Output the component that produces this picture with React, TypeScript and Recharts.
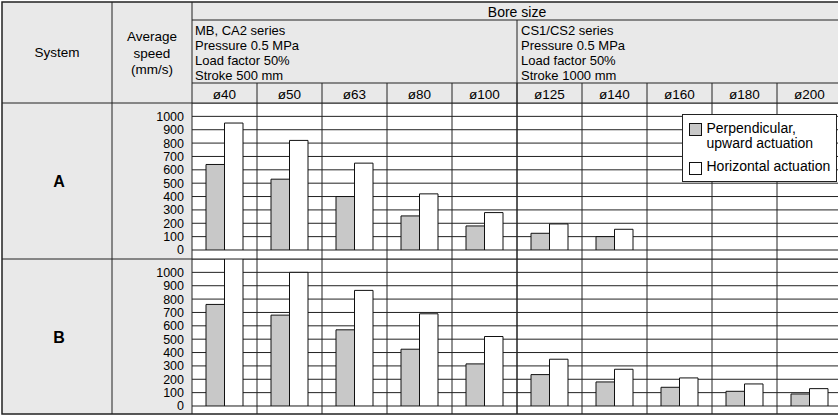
import React from 'react';
import { BarChart, Bar, XAxis, YAxis, CartesianGrid, Legend } from 'recharts';

const bores = ['ø40', 'ø50', 'ø63', 'ø80', 'ø100', 'ø125', 'ø140', 'ø160', 'ø180', 'ø200'];
const aPerp = [640, 530, 400, 255, 180, 125, 100, null, null, null];
const aHoriz = [950, 820, 650, 420, 280, 195, 155, null, null, null];
const bPerp = [760, 680, 570, 425, 315, 235, 180, 140, 110, 90];
const bHoriz = [1100, 1000, 865, 690, 520, 350, 275, 210, 165, 130];
const yTicks = [0, 100, 200, 300, 400, 500, 600, 700, 800, 900, 1000];
const seriesLeft = ['MB, CA2 series', 'Pressure 0.5 MPa', 'Load factor 50%', 'Stroke 500 mm'];
const seriesRight = ['CS1/CS2 series', 'Pressure 0.5 MPa', 'Load factor 50%', 'Stroke 1000 mm'];
const speedLabel = ['Average', 'speed', '(mm/s)'];
const legendNames = ['Perpendicular,|upward actuation', 'Horizontal actuation'];

const dataA = bores.map((b, i) => ({ bore: b, perp: aPerp[i], horiz: aHoriz[i] }));
const dataB = bores.map((b, i) => ({ bore: b, perp: bPerp[i], horiz: bHoriz[i] }));

const FONT = '"Liberation Sans", Arial, Helvetica, sans-serif';
const LINE = '#222';
const BG = '#e9e9e9';
const GRAYBAR = '#c8c8c8';

// table geometry
const X0 = 2, XSYS = 112, XAVG = 192, COLW = 65, XR = 842;
const Y0 = 2, YR1 = 20, YR2 = 83, YR3 = 103, YAB = 259, YB = 414;

const LegendBox = () => (
  <div style={{ position: 'absolute', left: 570, top: 11, width: 155, height: 68, boxSizing: 'border-box', background: '#fff', border: `1.5px solid ${LINE}`, fontFamily: FONT, fontSize: 14, color: '#000' }}>
    <div style={{ position: 'absolute', left: 6, top: 7.5, width: 13, height: 13, boxSizing: 'border-box', background: GRAYBAR, border: '1px solid #111' }} />
    <div style={{ position: 'absolute', left: 23.5, top: 5.5, lineHeight: '15px' }}>
      {legendNames[0].split('|').map((t, i) => <div key={i} style={{ whiteSpace: 'nowrap' }}>{t}</div>)}
    </div>
    <div style={{ position: 'absolute', left: 6, top: 46.5, width: 13, height: 13, boxSizing: 'border-box', background: '#fff', border: '1px solid #111' }} />
    <div style={{ position: 'absolute', left: 23.5, top: 44, lineHeight: '15px', whiteSpace: 'nowrap' }}>{legendNames[1]}</div>
  </div>
);

const Section = ({ data, top, height, legend }: { data: any[]; top: number; height: number; legend?: boolean }) => (
  <div style={{ position: 'absolute', left: XSYS, top }}>
    <BarChart width={XR - XSYS} height={height} data={data} margin={{ top: 0, right: 0, bottom: height - 147, left: 0 }} barGap={0} barSize={18.5}>
      <CartesianGrid horizontal vertical={false} stroke={LINE} strokeWidth={1} strokeDasharray="" />
      <XAxis dataKey="bore" hide />
      <YAxis
        domain={[0, 1100]}
        ticks={yTicks}
        allowDataOverflow
        width={XAVG - XSYS}
        axisLine={false}
        tickLine={false}
        interval={0}
        tick={{ fill: '#000', fontSize: 12.5, fontFamily: FONT }}
      />
      {legend && <Legend content={() => <LegendBox />} wrapperStyle={{ position: 'absolute', left: 0, top: 0, width: 0, height: 0 }} />}
      <Bar dataKey="perp" name="Perpendicular, upward actuation" fill={GRAYBAR} stroke="#111" strokeWidth={1} isAnimationActive={false} />
      <Bar dataKey="horiz" name="Horizontal actuation" fill="#fff" stroke="#111" strokeWidth={1} isAnimationActive={false} />
    </BarChart>
  </div>
);

export default function App() {
  const colXs = bores.map((_, i) => XAVG + i * COLW);
  const txt = { fontFamily: FONT, fontSize: 13, fill: '#000' } as const;
  return (
    <div style={{ position: 'relative', width: 838, height: 416, overflow: 'hidden', background: '#fff' }}>
      <style>{`body{margin:0;}`}</style>
      <svg width={838} height={416} style={{ position: 'absolute', left: 0, top: 0 }}>
        <rect x={X0} y={Y0} width={XR - X0} height={YB - Y0} fill={BG} />
        <rect x={XAVG} y={YR3} width={XR - XAVG} height={YB - YR3} fill="#fff" />
        {/* header text */}
        <text x={(X0 + XSYS) / 2} y={52.5} textAnchor="middle" dominantBaseline="central" {...txt} fontSize={13.5}>System</text>
        {speedLabel.map((t, i) => (
          <text key={t} x={(XSYS + XAVG) / 2} y={36.5 + i * 16.5} textAnchor="middle" dominantBaseline="central" {...txt} fontSize={13.5}>{t}</text>
        ))}
        <text x={(XAVG + XR) / 2} y={11.5} textAnchor="middle" dominantBaseline="central" {...txt} fontSize={14}>Bore size</text>
        {seriesLeft.map((t, i) => (
          <text key={'l' + i} x={XAVG + 3} y={30.5 + i * 15} dominantBaseline="central" {...txt}>{t}</text>
        ))}
        {seriesRight.map((t, i) => (
          <text key={'r' + i} x={XAVG + 5 * COLW + 4} y={30.5 + i * 15} dominantBaseline="central" {...txt}>{t}</text>
        ))}
        {bores.map((b, i) => (
          <text key={b} x={colXs[i] + COLW / 2} y={94.5} textAnchor="middle" dominantBaseline="central" {...txt} fontSize={13.5}>{b}</text>
        ))}
        <text x={(X0 + XSYS) / 2 + 2} y={181.5} textAnchor="middle" dominantBaseline="central" {...txt} fontWeight="bold" fontSize={16}>A</text>
        <text x={(X0 + XSYS) / 2 + 2} y={337} textAnchor="middle" dominantBaseline="central" {...txt} fontWeight="bold" fontSize={16}>B</text>
        {/* lines */}
        <g stroke={LINE} strokeWidth={1} fill="none">
          <line x1={XAVG} y1={YR1} x2={XR} y2={YR1} />
          <line x1={XAVG} y1={YR2} x2={XR} y2={YR2} />
          <line x1={X0} y1={YR3} x2={XR} y2={YR3} />
          <line x1={X0} y1={YAB} x2={XR} y2={YAB} />
          <line x1={XSYS} y1={Y0} x2={XSYS} y2={YB} />
          <line x1={XAVG} y1={Y0} x2={XAVG} y2={YB} />
          <line x1={XAVG + 5 * COLW} y1={YR1} x2={XAVG + 5 * COLW} y2={YB} />
          {colXs.slice(1).map((x, i) => (
            <line key={i} x1={x} y1={YR2} x2={x} y2={YB} />
          ))}
        </g>
        <rect x={X0} y={Y0} width={XR - X0} height={YB - Y0} fill="none" stroke={LINE} strokeWidth={1.5} />
      </svg>
      <Section data={dataA} top={YR3} height={YAB - YR3} legend />
      <Section data={dataB} top={YAB} height={YB - YAB} />
    </div>
  );
}
